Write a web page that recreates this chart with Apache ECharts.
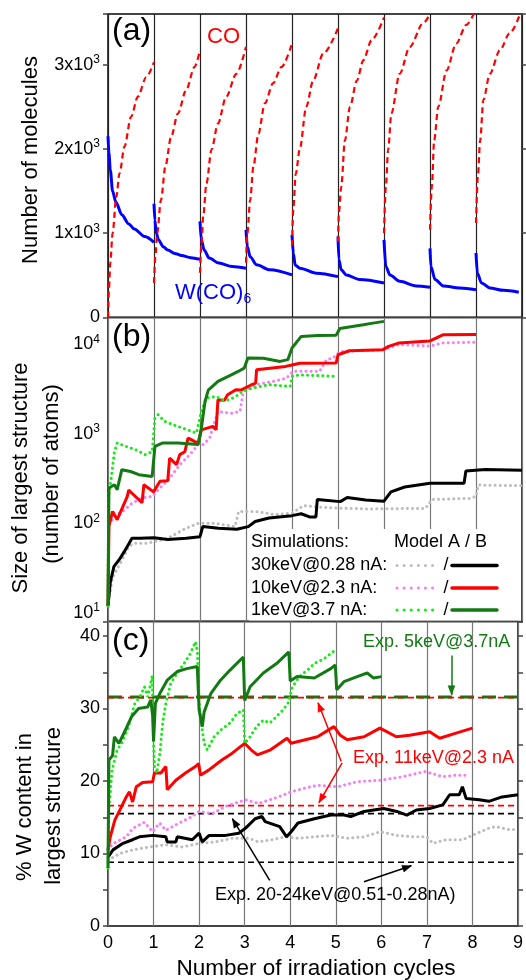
<!DOCTYPE html>
<html><head><meta charset="utf-8">
<script src="https://cdn.jsdelivr.net/npm/echarts@6/dist/echarts.min.js"></script>
<style>html,body{margin:0;padding:0;background:#fff}#c{width:526px;height:980px}</style>
</head><body><div id="c"></div>
<script>
const FONT = '"Liberation Sans", Arial, Helvetica, sans-serif';

// ---------- Panel (a): number of molecules per irradiation cycle ----------
const coCycles = [
  [[0,0],[0.02,330],[0.05,650],[0.1,1000],[0.18,1430],[0.25,1710],[0.36,2030],[0.5,2380],[0.65,2620],[0.83,2850],[1.0,3030]],
  [[1,410],[1.03,720],[1.07,1000],[1.15,1390],[1.25,1800],[1.37,2140],[1.52,2420],[1.7,2700],[1.88,2970],[2.0,3170]],
  [[2,530],[2.03,850],[2.07,1200],[2.14,1590],[2.25,1990],[2.39,2300],[2.57,2620],[2.79,2890],[3.0,3210]],
  [[3,650],[3.03,1000],[3.09,1390],[3.16,1790],[3.27,2180],[3.41,2540],[3.59,2780],[3.77,2970],[4.0,3250]],
  [[4,850],[4.03,1300],[4.08,1700],[4.17,2000],[4.31,2500],[4.46,2810],[4.68,3130],[5.0,3430]],
  [[5,900],[5.02,1250],[5.07,1550],[5.15,2100],[5.26,2500],[5.41,2810],[5.55,3050],[5.73,3290],[6.0,3560]],
  [[6,1000],[6.04,1550],[6.09,1990],[6.16,2420],[6.34,2890],[6.56,3210],[6.85,3490],[7.0,3600]],
  [[7,1040],[7.04,1550],[7.09,2100],[7.18,2500],[7.36,2930],[7.57,3250],[7.79,3470],[7.95,3600]],
  [[8,1120],[8.04,1670],[8.09,2100],[8.16,2580],[8.3,2890],[8.52,3170],[8.73,3370],[8.96,3600]]
];
const wco6Cycles = [
  [[0,2150],[0.02,1950],[0.05,1750],[0.1,1500],[0.17,1370],[0.3,1220],[0.45,1110],[0.57,1050],[0.8,960],[1.0,890]],
  [[1,1350],[1.02,1150],[1.05,1000],[1.1,920],[1.2,840],[1.3,800],[1.45,760],[1.6,735],[1.8,710],[2.0,690]],
  [[2,1140],[2.03,920],[2.09,800],[2.2,705],[2.41,645],[2.7,605],[3.0,585]],
  [[3,1040],[3.03,840],[3.09,720],[3.23,625],[3.52,565],[4.0,505]],
  [[4,980],[4.03,760],[4.07,620],[4.17,585],[4.53,525],[5.0,485]],
  [[5,960],[5.02,685],[5.07,565],[5.18,505],[5.47,450],[6.0,410]],
  [[6,920],[6.04,605],[6.13,505],[6.34,430],[6.7,375],[7.0,360]],
  [[7,820],[7.02,605],[7.11,450],[7.29,375],[7.65,350],[8.0,330]],
  [[8,765],[8.03,525],[8.12,410],[8.3,350],[8.6,322],[8.93,300]]
];

// ---------- Panel (b): size of largest structure ----------
const size30A = [[0,12],[0.1,25],[0.27,36],[0.45,55],[0.57,60],[0.86,60],[1.3,68],[1.67,87],[1.96,100],[2.33,100],[2.76,92],[2.84,136],[3.2,136],[3.64,125],[4.0,130],[4.25,158],[4.6,152],[5.0,148],[5.65,145],[6.9,147],[7.04,185],[7.85,190],[8.0,200],[8.05,268],[8.6,265],[9.0,265]];
const size30B = [[0,12],[0.05,22],[0.13,33],[0.24,39],[0.35,48],[0.46,60],[0.52,68],[0.7,68],[1.0,69],[1.3,66],[1.7,68],[2.0,71],[2.06,92],[2.4,88],[2.8,86],[3.05,92],[3.2,105],[3.5,115],[4.0,122],[4.2,128],[4.38,118],[4.52,118],[4.55,185],[5.05,175],[5.2,195],[5.6,182],[6.0,177],[6.15,225],[6.45,255],[7.0,280],[7.74,280],[7.78,385],[8.2,400],[9.0,392]];
const size10A = [[0,12],[0.02,97],[0.17,125],[0.32,136],[0.53,169],[0.74,192],[0.96,200],[1.13,248],[1.34,320],[1.56,453],[1.78,586],[1.96,760],[2.07,760],[2.21,898],[2.32,1380],[2.39,1780],[2.68,1700],[2.87,1780],[2.94,2990],[3.23,3550],[3.59,3860],[3.88,4200],[4.02,5000],[4.6,5000],[4.75,6760],[4.89,7030],[5.04,8330],[5.97,8700],[6.33,9970],[6.99,9560],[7.28,10400],[8.0,10600]];
const size10B = [[0,12],[0.02,93],[0.1,136],[0.2,110],[0.42,200],[0.45,235],[0.74,170],[0.78,270],[0.99,225],[1.13,295],[1.3,300],[1.34,537],[1.49,453],[1.56,586],[1.67,632],[1.74,898],[1.88,824],[1.96,790],[2.03,1110],[2.28,1213],[2.35,1110],[2.39,2410],[2.53,2370],[2.6,2740],[2.78,3120],[2.9,3100],[3.1,3500],[3.21,3700],[3.23,5200],[3.86,5680],[4.0,5900],[4.17,6170],[4.96,6200],[5.0,7670],[5.25,8500],[5.97,8700],[6.1,9500],[6.33,10400],[6.99,10900],[7.28,12800],[8.0,12900]];
const size1A = [[0,12],[0.01,150],[0.02,210],[0.07,320],[0.14,632],[0.2,790],[0.39,725],[0.6,666],[0.81,586],[0.96,632],[1.02,1500],[1.09,1640],[1.23,1380],[1.52,1210],[1.73,1110],[1.92,1020],[2.03,1780],[2.14,2510],[2.35,2620],[2.49,2410],[2.63,2410],[2.78,2620],[2.92,2990],[3.14,3250],[3.5,3550],[3.96,3390],[4.0,4390],[4.17,4570],[5.0,4390]];
const size1B = [[0,12],[0.02,248],[0.14,270],[0.2,238],[0.3,398],[0.49,380],[0.67,350],[0.96,335],[1.02,725],[1.18,790],[1.52,790],[1.96,760],[2.03,1160],[2.11,2310],[2.18,3090],[2.39,3860],[2.68,4570],[2.83,4990],[2.96,5430],[3.04,7030],[3.38,7000],[3.74,6460],[3.91,6760],[4.0,9130],[4.2,12300],[4.56,12600],[4.96,12700],[5.04,15100],[5.55,16600],[5.76,17300],[6.0,18100]];

// ---------- Panel (c): % W content ----------
const w30A = [[0,9.1],[0.26,10.0],[0.54,10.5],[0.9,10.9],[1.27,11.2],[1.63,10.9],[2.0,11.4],[2.36,11.6],[2.72,12.1],[3.09,12.1],[3.3,11.6],[3.6,11.9],[3.89,12.3],[4.17,12.1],[4.53,12.3],[4.89,12.5],[5.25,12.1],[5.62,12.3],[5.98,13.0],[6.34,12.5],[6.7,12.3],[7.0,12.3],[7.13,11.4],[7.42,11.9],[7.78,11.9],[8.0,12.5],[8.36,13.5],[8.51,13.7],[8.8,13.3],[9.0,13.3]];
const w30B = [[0,9.5],[0.11,10.5],[0.33,11.4],[0.54,11.9],[0.69,12.3],[0.98,12.5],[1.27,12.3],[1.3,11.6],[1.49,11.6],[1.52,12.3],[1.85,11.9],[2.0,12.8],[2.07,11.6],[2.22,12.5],[2.58,12.5],[2.87,12.8],[3.02,13.5],[3.23,14.8],[3.38,15.1],[3.45,14.4],[3.77,13.7],[3.92,12.3],[4.02,13.0],[4.17,14.2],[4.53,14.8],[4.89,15.3],[5.18,15.3],[5.33,15.1],[5.62,15.8],[6.05,16.2],[6.34,15.8],[6.56,15.3],[6.77,16.0],[7.06,16.2],[7.35,16.7],[7.5,18.1],[7.71,18.1],[7.78,19.2],[7.86,17.6],[8.15,17.4],[8.36,17.2],[8.65,17.8],[9.0,18.1]];
const w10A = [[0,10.5],[0.04,10.9],[0.18,11.6],[0.4,12.3],[0.55,13.5],[0.8,14.3],[0.98,13.0],[1.13,14.2],[1.27,13.2],[1.56,14.2],[1.85,15.1],[2.0,15.8],[2.29,15.5],[2.58,16.5],[2.87,17.1],[3.02,17.4],[3.31,16.9],[3.74,17.8],[4.02,18.5],[4.31,19.0],[4.6,19.4],[5.04,19.2],[5.47,19.9],[5.97,20.1],[6.48,20.6],[6.95,21.3],[7.35,20.6],[7.64,20.8],[7.93,20.8]];
const w10B = [[0,10.5],[0.05,12.3],[0.15,14.6],[0.3,16.5],[0.4,17.8],[0.47,18.5],[0.54,17.1],[0.62,19.2],[0.76,19.8],[0.98,19.9],[1.02,21.1],[1.16,21.1],[1.27,22.0],[1.3,18.8],[1.49,20.1],[1.7,21.1],[1.92,22.0],[1.99,22.4],[2.03,20.8],[2.21,21.5],[2.5,22.9],[2.72,23.8],[3.0,25.2],[3.14,24.3],[3.28,23.6],[3.57,24.3],[3.93,25.9],[4.02,25.2],[4.6,26.1],[4.96,27.5],[5.1,26.3],[5.25,25.7],[5.62,26.1],[5.97,27.3],[6.33,26.1],[6.62,26.3],[7.06,26.8],[7.28,25.9],[7.64,26.6],[8.0,27.3]];
const w1A = [[0,8],[0.02,16.0],[0.09,21.5],[0.2,24.3],[0.3,25.2],[0.45,27.5],[0.59,30.7],[0.7,31.6],[0.8,33.0],[0.87,31.6],[0.94,33.5],[0.97,34.5],[1.0,25.2],[1.02,22.0],[1.07,21.1],[1.14,23.8],[1.2,28.0],[1.27,30.7],[1.38,33.5],[1.52,34.9],[1.67,36.2],[1.81,37.6],[1.92,39.2],[1.96,38.0],[2.0,30.7],[2.04,28.4],[2.11,25.2],[2.18,24.3],[2.33,26.1],[2.47,27.0],[2.68,28.0],[2.83,29.3],[2.97,29.8],[3.0,25.2],[3.12,26.1],[3.26,27.5],[3.41,28.4],[3.55,28.0],[3.7,28.9],[3.84,29.8],[3.95,30.7],[4.05,33.0],[4.2,34.4],[4.38,35.3],[4.53,36.2],[4.75,36.9],[5.0,38.1]];
const w1B = [[0,8],[0.02,22.9],[0.1,23.5],[0.14,26.1],[0.24,25.2],[0.38,27.0],[0.52,28.9],[0.67,30.0],[0.87,30.2],[0.94,31.2],[0.98,29.0],[1.0,25.5],[1.04,30.7],[1.14,32.1],[1.3,33.9],[1.52,35.1],[1.73,35.5],[1.96,35.8],[2.0,29.8],[2.07,27.5],[2.11,29.5],[2.26,32.1],[2.47,33.9],[2.68,35.3],[2.97,37.1],[3.0,31.1],[3.12,33.0],[3.41,34.9],[3.7,36.2],[3.97,37.8],[4.0,33.8],[4.15,34.4],[4.53,34.2],[4.89,35.5],[4.99,36.0],[5.02,32.6],[5.18,33.7],[5.47,34.4],[5.69,34.9],[5.83,34.2],[6.0,34.4]];

// experimental reference levels (% W)
const expGreen = [31.6];
const expRed = [31.5, 16.6];
const expBlack = [15.5, 8.8];
const xRange = [0, 9];

// annotation arrows in panel (c), data coordinates [from, to]
const arrowsGreen = [[[7.54,37.3],[7.54,31.9]]];
const arrowsRed = [[[5.12,22.7],[4.61,30.8]], [[5.14,22.5],[4.63,17.0]]];
const arrowsBlack = [[[3.55,6.3],[2.73,14.8]], [[5.62,6.1],[6.66,8.3]]];

// tick labels
const xTicks = [0,1,2,3,4,5,6,7,8,9];

// ----------------------------------------------------------
function joinCycles(cycles){
  const out=[];
  cycles.forEach((c,i)=>{ if(i>0) out.push([c[0][0],'-']); c.forEach(p=>out.push(p)); });
  return out;
}
function levels(vals){
  const out=[];
  vals.forEach((v,i)=>{ if(i>0) out.push([xRange[0],'-']); out.push([xRange[0],v],[xRange[1],v]); });
  return out;
}

const RED='#ff0000', BLUE='#0000ff', GREY='#bdbdbd', BLACK='#000000', MAG='#f77ef7', LIME='#14ec14', DKG='#137a13';
const dotted = (c)=>({color:c, width:3, type:[0.1,5], cap:'round'});
const solid = (c,w)=>({color:c, width:w||3, type:'solid'});

const chart = echarts.init(document.getElementById('c'), null, {renderer:'canvas'});

const gridBase = {left:108, right:4, show:true, borderColor:'#444', borderWidth:2, backgroundColor:'#fff'};
function mkX(i, splitColor, labels){
  return {gridIndex:i, type:'value', min:xRange[0], max:xRange[1], interval:1,
    axisLine:{show:false}, axisTick:{show:false},
    splitLine:{show:true, lineStyle:{color:splitColor, width:1.2}},
    axisLabel:{show:labels, color:'#000', fontSize:18, fontFamily:FONT, margin:8,
      formatter:(v)=> xTicks.indexOf(v)>=0 ? String(v) : ''}};
}
const supRich = {
  b:{fontSize:18, color:'#000', fontFamily:FONT, lineHeight:22},
  s:{fontSize:12, color:'#000', fontFamily:FONT, verticalAlign:'top', lineHeight:12}
};
const tickStyle = {show:true, inside:false, length:5, lineStyle:{color:'#444', width:1.5}};
const arrowML = (color, arr)=>({silent:true, animation:false, symbol:['none','none'], label:{show:false},
  lineStyle:{color:color, width:1.5, type:'solid'}, emphasis:{disabled:true},
  data:arr.map(a=>[{coord:a[0]},{coord:a[1]}])});

const option = {
  animation:false,
  backgroundColor:'#fff',
  textStyle:{fontFamily:FONT},
  grid:[
    Object.assign({top:14, height:303.5}, gridBase),
    Object.assign({top:317.5, height:304}, gridBase),
    Object.assign({top:621.5, height:304.5}, gridBase)
  ],
  xAxis:[mkX(0,'#222',false), mkX(1,'#777',false), mkX(2,'#777',true)],
  yAxis:[
    {gridIndex:0, type:'value', min:0, max:3600, interval:1000, splitLine:{show:false}, axisLine:{show:false},
      axisTick:tickStyle,
      axisLabel:{margin:8, rich:supRich, formatter:(v)=> v===0 ? '{b|0}' : (v%1000===0 ? '{b|'+(v/1000)+'x10}{s|3}' : '')}},
    {gridIndex:1, type:'log', logBase:10, min:8, max:20000, splitLine:{show:false}, axisLine:{show:false},
      axisTick:{show:false}, minorTick:{show:false},
      axisLabel:{margin:8, rich:supRich, formatter:(v)=>{const e=Math.log10(v), r=Math.round(e); return Math.abs(e-r)<1e-6 ? '{b|10}{s|'+r+'}' : '';}}},
    {gridIndex:2, type:'value', min:0, max:42, interval:5, splitLine:{show:false}, axisLine:{show:false},
      axisTick:tickStyle,
      axisLabel:{margin:8, color:'#000', fontSize:18, fontFamily:FONT, formatter:(v)=> (v%10===0 && v<=40) ? String(v) : ''}},
    {gridIndex:0, type:'value', position:'right', min:0, max:3600, interval:1000, splitLine:{show:false}, axisLine:{show:false},
      axisTick:tickStyle, axisLabel:{show:false}},
    {gridIndex:2, type:'value', position:'right', min:0, max:42, interval:5, splitLine:{show:false}, axisLine:{show:false},
      axisTick:tickStyle, axisLabel:{show:false}}
  ],
  series:[
    // (a)
    {type:'line', xAxisIndex:0, yAxisIndex:0, data:joinCycles(wco6Cycles), showSymbol:false, smooth:0.3, smoothMonotone:'x',
      lineStyle:solid(BLUE,3), z:3},
    {type:'line', xAxisIndex:0, yAxisIndex:0, data:joinCycles(coCycles), showSymbol:false, smooth:0.3, smoothMonotone:'x',
      lineStyle:{color:RED, width:2.2, type:[6,4]}, z:4},
    // (b)
    {type:'line', xAxisIndex:1, yAxisIndex:1, data:size30A, showSymbol:false, lineStyle:dotted(GREY)},
    {type:'line', xAxisIndex:1, yAxisIndex:1, data:size30B, showSymbol:false, lineStyle:solid(BLACK,3)},
    {type:'line', xAxisIndex:1, yAxisIndex:1, data:size10A, showSymbol:false, lineStyle:dotted(MAG)},
    {type:'line', xAxisIndex:1, yAxisIndex:1, data:size10B, showSymbol:false, lineStyle:solid(RED,3)},
    {type:'line', xAxisIndex:1, yAxisIndex:1, data:size1A, showSymbol:false, lineStyle:dotted(LIME)},
    {type:'line', xAxisIndex:1, yAxisIndex:1, data:size1B, showSymbol:false, lineStyle:solid(DKG,3)},
    // (c) experimental levels + arrow shafts
    {type:'line', xAxisIndex:2, yAxisIndex:2, data:levels(expGreen), showSymbol:false, lineStyle:{color:DKG, width:3, type:[14,8]}, z:2,
      markLine:arrowML(DKG, arrowsGreen)},
    {type:'line', xAxisIndex:2, yAxisIndex:2, data:levels(expRed), showSymbol:false, lineStyle:{color:RED, width:1.6, type:[6,4]}, z:2,
      markLine:arrowML(RED, arrowsRed)},
    {type:'line', xAxisIndex:2, yAxisIndex:2, data:levels(expBlack), showSymbol:false, lineStyle:{color:BLACK, width:1.6, type:[6,4]}, z:2,
      markLine:arrowML(BLACK, arrowsBlack)},
    // (c) simulations
    {type:'line', xAxisIndex:2, yAxisIndex:2, data:w30A, showSymbol:false, lineStyle:dotted(GREY), z:3},
    {type:'line', xAxisIndex:2, yAxisIndex:2, data:w30B, showSymbol:false, lineStyle:solid(BLACK,3), z:3},
    {type:'line', xAxisIndex:2, yAxisIndex:2, data:w10A, showSymbol:false, lineStyle:dotted(MAG), z:3},
    {type:'line', xAxisIndex:2, yAxisIndex:2, data:w10B, showSymbol:false, lineStyle:solid(RED,3), z:3},
    {type:'line', xAxisIndex:2, yAxisIndex:2, data:w1A, showSymbol:false, lineStyle:dotted(LIME), z:3},
    {type:'line', xAxisIndex:2, yAxisIndex:2, data:w1B, showSymbol:false, lineStyle:solid(DKG,3), z:3}
  ],
  graphic:[
    // panel letters
    {type:'text', x:112, y:31, z:50, style:{text:'(a)', fontSize:32, fontFamily:FONT, fill:'#000', align:'left', verticalAlign:'middle'}},
    {type:'text', x:112, y:337, z:50, style:{text:'(b)', fontSize:32, fontFamily:FONT, fill:'#000', align:'left', verticalAlign:'middle'}},
    {type:'text', x:112, y:641, z:50, style:{text:'(c)', fontSize:32, fontFamily:FONT, fill:'#000', align:'left', verticalAlign:'middle'}},
    // series labels in (a)
    {type:'text', x:207, y:37, z:50, style:{text:'CO', fontSize:22, fontFamily:FONT, fill:RED, align:'left', verticalAlign:'middle'}},
    {type:'text', x:175, y:293, z:50, style:{text:'{a|W(CO)}{s|6}', fontFamily:FONT, align:'left', verticalAlign:'middle',
      rich:{a:{fontSize:22, fontFamily:FONT, fill:BLUE, color:BLUE, lineHeight:26}, s:{fontSize:14, fontFamily:FONT, fill:BLUE, color:BLUE, verticalAlign:'bottom', lineHeight:14}}}},
    // axis titles
    {type:'text', x:31, y:160, rotation:Math.PI/2, z:50, style:{text:'Number of molecules', fontSize:22, fontFamily:FONT, fill:'#000', align:'center', verticalAlign:'middle'}},
    {type:'text', x:21, y:478, rotation:Math.PI/2, z:50, style:{text:'Size of largest structure', fontSize:22, fontFamily:FONT, fill:'#000', align:'center', verticalAlign:'middle'}},
    {type:'text', x:52, y:474, rotation:Math.PI/2, z:50, style:{text:'(number of atoms)', fontSize:22, fontFamily:FONT, fill:'#000', align:'center', verticalAlign:'middle'}},
    {type:'text', x:25, y:807, rotation:Math.PI/2, z:50, style:{text:'% W content in', fontSize:22, fontFamily:FONT, fill:'#000', align:'center', verticalAlign:'middle'}},
    {type:'text', x:54, y:806, rotation:Math.PI/2, z:50, style:{text:'largest structure', fontSize:22, fontFamily:FONT, fill:'#000', align:'center', verticalAlign:'middle'}},
    {type:'text', x:316, y:969, z:50, style:{text:'Number of irradiation cycles', fontSize:22.5, fontFamily:FONT, fill:'#000', align:'center', verticalAlign:'middle'}},
    // annotations in (c)
    {type:'text', x:363, y:642, z:50, style:{text:'Exp. 5keV@3.7nA', fontSize:18, fontFamily:FONT, fill:DKG, align:'left', verticalAlign:'middle'}},
    {type:'text', x:353, y:758, z:50, style:{text:'Exp. 11keV@2.3 nA', fontSize:18, fontFamily:FONT, fill:RED, align:'left', verticalAlign:'middle'}},
    {type:'text', x:215, y:895, z:50, style:{text:'Exp. 20-24keV@0.51-0.28nA)', fontSize:18, fontFamily:FONT, fill:'#000', align:'left', verticalAlign:'middle'}},
    // legend box in (b)
    {type:'rect', z:40, shape:{x:249, y:529, width:272, height:91.5}, style:{fill:'#fff', stroke:null}},
    {type:'text', x:251, y:542, z:50, style:{text:'Simulations:', fontSize:18, fontFamily:FONT, fill:'#000', align:'left', verticalAlign:'middle'}},
    {type:'text', x:394, y:542, z:50, style:{text:'Model A / B', fontSize:18, fontFamily:FONT, fill:'#000', align:'left', verticalAlign:'middle'}},
    {type:'text', x:251, y:565.5, z:50, style:{text:'30keV@0.28 nA:', fontSize:18, fontFamily:FONT, fill:'#000', align:'left', verticalAlign:'middle'}},
    {type:'text', x:251, y:588, z:50, style:{text:'10keV@2.3 nA:', fontSize:18, fontFamily:FONT, fill:'#000', align:'left', verticalAlign:'middle'}},
    {type:'text', x:251, y:610, z:50, style:{text:'1keV@3.7 nA:', fontSize:18, fontFamily:FONT, fill:'#000', align:'left', verticalAlign:'middle'}},
    {type:'line', z:50, shape:{x1:397, y1:565.5, x2:439, y2:565.5}, style:{stroke:GREY, lineWidth:3, lineDash:[0.1,7], lineCap:'round'}},
    {type:'line', z:50, shape:{x1:397, y1:588, x2:439, y2:588}, style:{stroke:MAG, lineWidth:3, lineDash:[0.1,7], lineCap:'round'}},
    {type:'line', z:50, shape:{x1:397, y1:610, x2:439, y2:610}, style:{stroke:LIME, lineWidth:3, lineDash:[0.1,7], lineCap:'round'}},
    {type:'text', x:446, y:565.5, z:50, style:{text:'/', fontSize:18, fontFamily:FONT, fill:'#000', align:'center', verticalAlign:'middle'}},
    {type:'text', x:446, y:588, z:50, style:{text:'/', fontSize:18, fontFamily:FONT, fill:'#000', align:'center', verticalAlign:'middle'}},
    {type:'text', x:446, y:610, z:50, style:{text:'/', fontSize:18, fontFamily:FONT, fill:'#000', align:'center', verticalAlign:'middle'}},
    {type:'line', z:50, shape:{x1:452, y1:565.5, x2:497, y2:565.5}, style:{stroke:BLACK, lineWidth:3.5, lineCap:'round'}},
    {type:'line', z:50, shape:{x1:452, y1:588, x2:497, y2:588}, style:{stroke:RED, lineWidth:3.5, lineCap:'round'}},
    {type:'line', z:50, shape:{x1:452, y1:610, x2:497, y2:610}, style:{stroke:DKG, lineWidth:3.5, lineCap:'round'}}
  ]
};
chart.setOption(option);

// arrowheads: positioned through the chart's own scale (convertToPixel)
const heads = [];
[[arrowsGreen, DKG], [arrowsRed, RED], [arrowsBlack, BLACK]].forEach(([list, color])=>{
  list.forEach(a=>{
    const p1 = chart.convertToPixel({gridIndex:2}, a[0]);
    const p2 = chart.convertToPixel({gridIndex:2}, a[1]);
    const dx = p2[0]-p1[0], dy = p2[1]-p1[1], L = Math.hypot(dx,dy) || 1;
    const ux = dx/L, uy = dy/L, nx = -uy, ny = ux, len = 9, half = 3.5;
    heads.push({type:'polygon', z:55, shape:{points:[
      [p2[0], p2[1]],
      [p2[0]-ux*len+nx*half, p2[1]-uy*len+ny*half],
      [p2[0]-ux*len-nx*half, p2[1]-uy*len-ny*half]
    ]}, style:{fill:color, stroke:color, lineWidth:0.5}});
  });
});
chart.setOption({graphic: option.graphic.concat(heads)});
</script></body></html>
